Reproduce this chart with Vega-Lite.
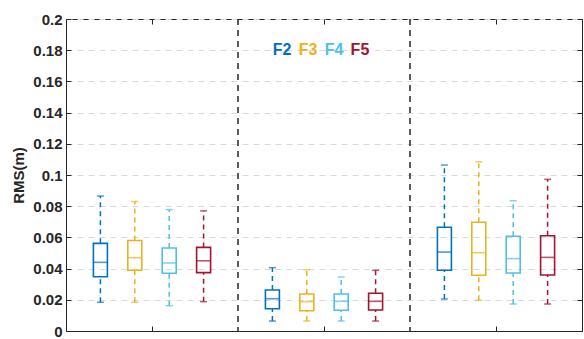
{
  "$schema": "https://vega.github.io/schema/vega-lite/v6.json",
  "width": 516,
  "height": 312,
  "autosize": {"type": "none"},
  "padding": {"left": 66, "top": 19, "right": 2, "bottom": 8},
  "background": "white",
  "config": {
    "view": {"stroke": "#262626", "strokeWidth": 1},
    "font": "Liberation Sans",
    "axis": {"labelFont": "Liberation Sans", "titleFont": "Liberation Sans"},
    "text": {"fontSize": 16, "fontWeight": "bold", "font": "Liberation Sans", "baseline": "middle", "align": "center"}
  },
  "datasets": {
    "boxes": [
      {"group": "G1", "series": "F2", "lo": 0.0184, "q1": 0.0348, "med": 0.0440, "q3": 0.0562, "hi": 0.0865},
      {"group": "G1", "series": "F3", "lo": 0.0184, "q1": 0.0389, "med": 0.0470, "q3": 0.0580, "hi": 0.0830},
      {"group": "G1", "series": "F4", "lo": 0.0162, "q1": 0.0370, "med": 0.0436, "q3": 0.0532, "hi": 0.0778},
      {"group": "G1", "series": "F5", "lo": 0.0188, "q1": 0.0374, "med": 0.0450, "q3": 0.0536, "hi": 0.0770},
      {"group": "G2", "series": "F2", "lo": 0.0064, "q1": 0.0143, "med": 0.0207, "q3": 0.0263, "hi": 0.0406},
      {"group": "G2", "series": "F3", "lo": 0.0064, "q1": 0.0130, "med": 0.0188, "q3": 0.0237, "hi": 0.0393},
      {"group": "G2", "series": "F4", "lo": 0.0064, "q1": 0.0133, "med": 0.0190, "q3": 0.0237, "hi": 0.0346},
      {"group": "G2", "series": "F5", "lo": 0.0064, "q1": 0.0135, "med": 0.0190, "q3": 0.0242, "hi": 0.0389},
      {"group": "G3", "series": "F2", "lo": 0.0205, "q1": 0.0389, "med": 0.0506, "q3": 0.0665, "hi": 0.1064},
      {"group": "G3", "series": "F3", "lo": 0.0197, "q1": 0.0357, "med": 0.0502, "q3": 0.0697, "hi": 0.1085},
      {"group": "G3", "series": "F4", "lo": 0.0173, "q1": 0.0372, "med": 0.0464, "q3": 0.0607, "hi": 0.0835},
      {"group": "G3", "series": "F5", "lo": 0.0173, "q1": 0.0359, "med": 0.0472, "q3": 0.0611, "hi": 0.0972}
    ],
    "seps": [{"group": "G2"}, {"group": "G3"}],
    "legend": [
      {"group": "G2", "series": "F2"},
      {"group": "G2", "series": "F3"},
      {"group": "G2", "series": "F4"},
      {"group": "G2", "series": "F5"}
    ]
  },
  "layer": [
    {
      "data": {"name": "seps"},
      "mark": {"type": "rule", "color": "#262626", "strokeWidth": 1.5, "strokeDash": [6, 5]},
      "encoding": {
        "x": {"field": "group", "type": "nominal", "bandPosition": 0, "axis": null}
      }
    },
    {
      "data": {"name": "boxes"},
      "mark": {"type": "rule", "strokeWidth": 1.5, "strokeDash": [5, 4]},
      "encoding": {
        "x": {"field": "group", "type": "nominal", "axis": null},
        "xOffset": {"field": "series", "type": "nominal"},
        "y": {"field": "lo", "type": "quantitative", "axis": null},
        "y2": {"field": "q1"},
        "color": {"field": "series", "type": "nominal", "legend": null}
      }
    },
    {
      "data": {"name": "boxes"},
      "mark": {"type": "rule", "strokeWidth": 1.5, "strokeDash": [5, 4]},
      "encoding": {
        "x": {"field": "group", "type": "nominal", "axis": null},
        "xOffset": {"field": "series", "type": "nominal"},
        "y": {"field": "q3", "type": "quantitative", "axis": null},
        "y2": {"field": "hi"},
        "color": {"field": "series", "type": "nominal", "legend": null}
      }
    },
    {
      "data": {"name": "boxes"},
      "mark": {"type": "tick", "size": 7, "thickness": 1.5},
      "encoding": {
        "x": {"field": "group", "type": "nominal", "axis": null},
        "xOffset": {"field": "series", "type": "nominal"},
        "y": {"field": "hi", "type": "quantitative", "axis": null},
        "color": {"field": "series", "type": "nominal", "legend": null}
      }
    },
    {
      "data": {"name": "boxes"},
      "mark": {"type": "tick", "size": 7, "thickness": 1.5},
      "encoding": {
        "x": {"field": "group", "type": "nominal", "axis": null},
        "xOffset": {"field": "series", "type": "nominal"},
        "y": {"field": "lo", "type": "quantitative", "axis": null},
        "color": {"field": "series", "type": "nominal", "legend": null}
      }
    },
    {
      "data": {"name": "boxes"},
      "mark": {"type": "bar", "width": 14, "filled": false, "strokeWidth": 1.6},
      "encoding": {
        "x": {
          "field": "group", "type": "nominal",
          "scale": {"domain": ["G1", "G2", "G3"], "paddingInner": 0, "paddingOuter": 0},
          "axis": {"orient": "bottom", "labels": false, "title": null, "tickSize": -5, "domainColor": "#262626", "tickColor": "#262626", "domainWidth": 1}
        },
        "xOffset": {
          "field": "series", "type": "nominal",
          "scale": {"domain": ["F2", "F3", "F4", "F5"], "paddingInner": 0, "paddingOuter": 0.5}
        },
        "y": {
          "field": "q1", "type": "quantitative",
          "scale": {"domain": [0, 0.2], "nice": false, "zero": true},
          "axis": {
            "orient": "left",
            "values": [0, 0.02, 0.04, 0.06, 0.08, 0.1, 0.12, 0.14, 0.16, 0.18, 0.2],
            "labelExpr": "datum.value == 0 ? '0' : format(datum.value, '.2~f')",
            "title": "RMS(m)",
            "titleFontSize": 15, "titleFontWeight": "bold", "titleColor": "#262626", "titlePadding": 6,
            "labelFontSize": 15, "labelFontWeight": "bold", "labelColor": "#262626",
            "tickSize": -5, "labelPadding": 9, "tickColor": "#262626", "domainColor": "#262626",
            "grid": true, "gridColor": "#d9d9d9", "gridDash": [6, 5], "gridWidth": 1
          }
        },
        "y2": {"field": "q3"},
        "color": {
          "field": "series", "type": "nominal",
          "scale": {"domain": ["F2", "F3", "F4", "F5"], "range": ["#0072BD", "#EDB120", "#4DBEEE", "#A2142F"]},
          "legend": null
        }
      }
    },
    {
      "data": {"name": "boxes"},
      "mark": {"type": "tick", "size": 14, "thickness": 1.6},
      "encoding": {
        "x": {
          "field": "group", "type": "nominal",
          "axis": {"orient": "top", "labels": false, "title": null, "tickSize": -5, "domain": false, "tickColor": "#262626"}
        },
        "xOffset": {"field": "series", "type": "nominal"},
        "y": {
          "field": "med", "type": "quantitative",
          "axis": {"orient": "right", "labels": false, "title": null, "tickSize": -5, "domain": false, "grid": false, "tickColor": "#262626",
            "values": [0, 0.02, 0.04, 0.06, 0.08, 0.1, 0.12, 0.14, 0.16, 0.18, 0.2]}
        },
        "color": {"field": "series", "type": "nominal", "legend": null}
      }
    },
    {
      "data": {"name": "legend"},
      "transform": [{"filter": "datum.series == 'F2'"}],
      "mark": {"type": "text"},
      "encoding": {
        "x": {"field": "group", "type": "nominal", "bandPosition": 0.256, "axis": null},
        "y": {"datum": 0.18, "type": "quantitative", "axis": null},
        "text": {"field": "series", "type": "nominal"},
        "color": {"field": "series", "type": "nominal", "legend": null}
      }
    },
    {
      "data": {"name": "legend"},
      "transform": [{"filter": "datum.series == 'F3'"}],
      "mark": {"type": "text"},
      "encoding": {
        "x": {"field": "group", "type": "nominal", "bandPosition": 0.407, "axis": null},
        "y": {"datum": 0.18, "type": "quantitative", "axis": null},
        "text": {"field": "series", "type": "nominal"},
        "color": {"field": "series", "type": "nominal", "legend": null}
      }
    },
    {
      "data": {"name": "legend"},
      "transform": [{"filter": "datum.series == 'F4'"}],
      "mark": {"type": "text"},
      "encoding": {
        "x": {"field": "group", "type": "nominal", "bandPosition": 0.558, "axis": null},
        "y": {"datum": 0.18, "type": "quantitative", "axis": null},
        "text": {"field": "series", "type": "nominal"},
        "color": {"field": "series", "type": "nominal", "legend": null}
      }
    },
    {
      "data": {"name": "legend"},
      "transform": [{"filter": "datum.series == 'F5'"}],
      "mark": {"type": "text"},
      "encoding": {
        "x": {"field": "group", "type": "nominal", "bandPosition": 0.709, "axis": null},
        "y": {"datum": 0.18, "type": "quantitative", "axis": null},
        "text": {"field": "series", "type": "nominal"},
        "color": {"field": "series", "type": "nominal", "legend": null}
      }
    }
  ],
  "resolve": {"axis": {"x": "independent", "y": "independent"}}
}
